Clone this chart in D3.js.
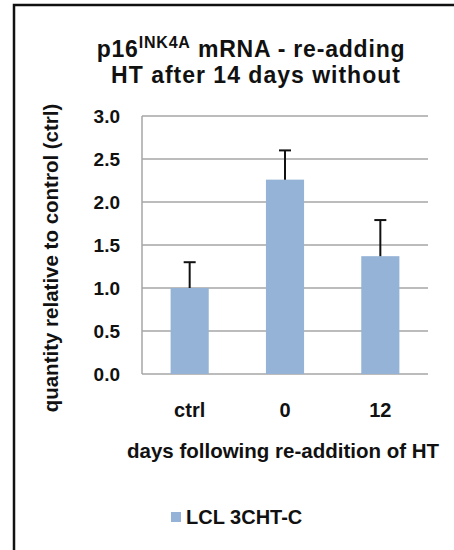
<!DOCTYPE html>
<html>
<head>
<meta charset="utf-8">
<script src="https://cdn.jsdelivr.net/npm/d3@7"></script>
<style>
  html, body { margin: 0; padding: 0; background: #fff; }
  svg { display: block; font-family: Arial, "Liberation Sans", Helvetica, sans-serif; font-weight: bold; }
</style>
</head>
<body>
<svg id="chart" width="454" height="550"></svg>
<script>
// p16INK4A expression after re-adding HT
const categories = ["ctrl", "0", "12"];
const values = [1.0, 2.26, 1.37];
const errors = [0.30, 0.34, 0.42];
const yTicks = [0, 0.5, 1.0, 1.5, 2.0, 2.5, 3.0];
const seriesName = "LCL 3CHT-C";

const svg = d3.select("#chart");
const plot = { left: 142, right: 428, top: 116, bottom: 374 };
const barColor = "#95b3d7";
const gridColor = "#a6a6a6";

// frame around the chart
svg.append("rect")
  .attr("x", 14).attr("y", 5)
  .attr("width", 460).attr("height", 560)
  .attr("fill", "none").attr("stroke", "#111").attr("stroke-width", 2.5);

// title, two lines with a superscript gene name
const line1 = svg.append("text").attr("text-anchor", "middle").attr("font-size", 23)
  .attr("letter-spacing", 0.8).attr("fill", "#111")
  .attr("x", 251).attr("y", 57);
line1.append("tspan").text("p16");
line1.append("tspan").attr("font-size", 16).attr("dy", -9).text("INK4A");
line1.append("tspan").attr("dy", 9).text(" mRNA - re-adding");
svg.append("text").attr("text-anchor", "middle").attr("font-size", 23)
  .attr("letter-spacing", 1).attr("fill", "#111")
  .attr("x", 256).attr("y", 83).text("HT after 14 days without");

const x = d3.scaleBand().domain(categories).range([plot.left, plot.right]).paddingInner(0.6).paddingOuter(0.3);
const y = d3.scaleLinear().domain([0, 3]).range([plot.bottom, plot.top]);

// horizontal gridlines
svg.append("g").selectAll("line").data(yTicks).join("line")
  .attr("x1", plot.left).attr("x2", plot.right)
  .attr("y1", d => y(d)).attr("y2", d => y(d))
  .attr("stroke", gridColor).attr("stroke-width", 1.5);

// vertical axis line
svg.append("line")
  .attr("x1", plot.left).attr("x2", plot.left)
  .attr("y1", y(3)).attr("y2", y(0))
  .attr("stroke", gridColor).attr("stroke-width", 1.5);

// y tick labels
svg.append("g").selectAll("text").data(yTicks).join("text")
  .attr("x", 120).attr("y", d => y(d) + 7)
  .attr("text-anchor", "end").attr("font-size", 19).attr("fill", "#111")
  .text(d => d3.format(".1f")(d));

// bars
svg.append("g").selectAll("rect").data(categories).join("rect")
  .attr("x", d => x(d)).attr("width", x.bandwidth())
  .attr("y", (d, i) => y(values[i]))
  .attr("height", (d, i) => y(0) - y(values[i]))
  .attr("fill", barColor);

// upper error bars
const eb = svg.append("g").attr("stroke", "#111").attr("stroke-width", 2);
categories.forEach((c, i) => {
  const cx = x(c) + x.bandwidth() / 2;
  eb.append("line").attr("x1", cx).attr("x2", cx)
    .attr("y1", y(values[i])).attr("y2", y(values[i] + errors[i]));
  eb.append("line").attr("x1", cx - 6).attr("x2", cx + 6)
    .attr("y1", y(values[i] + errors[i])).attr("y2", y(values[i] + errors[i]));
});

// x tick labels
svg.append("g").selectAll("text").data(categories).join("text")
  .attr("x", d => x(d) + x.bandwidth() / 2).attr("y", 417)
  .attr("text-anchor", "middle").attr("font-size", 20).attr("fill", "#111")
  .text(d => d);

// axis titles
svg.append("text")
  .attr("x", 283).attr("y", 458)
  .attr("text-anchor", "middle").attr("font-size", 20.5).attr("fill", "#111")
  .text("days following re-addition of HT");

svg.append("text")
  .attr("transform", "translate(58,258) rotate(-90)")
  .attr("text-anchor", "middle").attr("font-size", 20.5).attr("fill", "#111")
  .text("quantity relative to control (ctrl)");

// legend
const lg = svg.append("g");
lg.append("rect").attr("x", 171).attr("y", 512).attr("width", 10).attr("height", 10).attr("fill", barColor);
lg.append("text").attr("x", 186).attr("y", 524).attr("font-size", 20).attr("fill", "#111").text(seriesName);
</script>
</body>
</html>
